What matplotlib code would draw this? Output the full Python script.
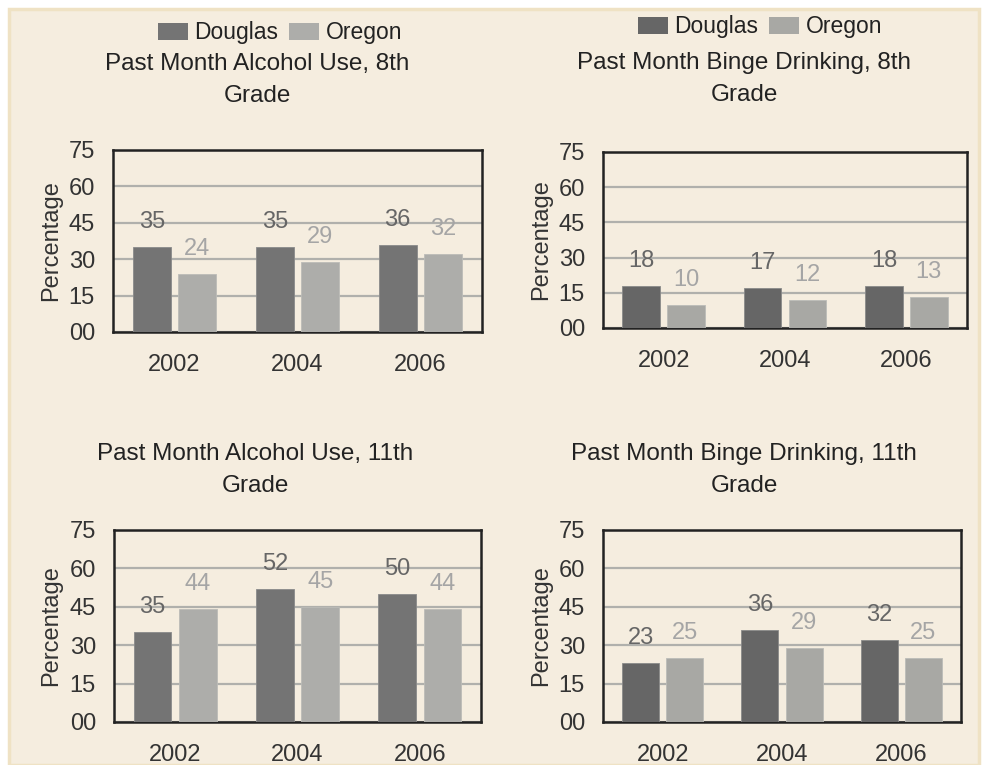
import matplotlib.pyplot as plt
from matplotlib.patches import Rectangle, Patch

plt.rcParams['font.family'] = ['Liberation Sans', 'DejaVu Sans']

years = ['2002', '2004', '2006']
yticks = [0, 15, 30, 45, 60, 75]
ytick_labels = ['00', '15', '30', '45', '60', '75']

alcohol_8_douglas = [35, 35, 36]
alcohol_8_oregon = [24, 29, 32]
binge_8_douglas = [18, 17, 18]
binge_8_oregon = [10, 12, 13]
alcohol_11_douglas = [35, 52, 50]
alcohol_11_oregon = [44, 45, 44]
binge_11_douglas = [23, 36, 32]
binge_11_oregon = [25, 29, 25]

titles = ['Past Month Alcohol Use, 8th\nGrade',
          'Past Month Binge Drinking, 8th\nGrade',
          'Past Month Alcohol Use, 11th\nGrade',
          'Past Month Binge Drinking, 11th\nGrade']

bg = '#f5eddf'
W, H = 983, 765

fig = plt.figure(figsize=(W / 100, H / 100), dpi=100)
fig.patch.set_facecolor('white')
# beige panel with a slightly darker rim
fig.patches.append(Rectangle((9 / W, 0), 970 / W, 1 - 9 / H, transform=fig.transFigure,
                             facecolor=bg, edgecolor='#efe2c4', linewidth=2.5, zorder=-5))

# (left, right, top, bottom) in pixels, plus title / legend centres
panels = [
    dict(box=(113, 482, 150, 332), douglas=alcohol_8_douglas, oregon=alcohol_8_oregon,
         cd='#747474', co='#adadaa', tx=257, ty=80, leg=(280, 33)),
    dict(box=(603, 967, 152, 328), douglas=binge_8_douglas, oregon=binge_8_oregon,
         cd='#666666', co='#a8a8a4', tx=744, ty=79, leg=(760, 27)),
    dict(box=(114, 481, 530, 722), douglas=alcohol_11_douglas, oregon=alcohol_11_oregon,
         cd='#747474', co='#adadaa', tx=255, ty=470, leg=None),
    dict(box=(603, 961, 530, 722), douglas=binge_11_douglas, oregon=binge_11_oregon,
         cd='#666666', co='#a8a8a4', tx=744, ty=470, leg=None),
]

x = range(len(years))
w = 0.31
off = 0.185

for p, title in zip(panels, titles):
    l, r, t, b = p['box']
    ax = fig.add_axes([l / W, 1 - b / H, (r - l) / W, (b - t) / H])
    ax.set_facecolor(bg)
    xd = [i - off for i in x]
    xo = [i + off for i in x]
    ax.bar(xd, p['douglas'], width=w, color=p['cd'], edgecolor='#8a8a8a', linewidth=0.6, zorder=3)
    ax.bar(xo, p['oregon'], width=w, color=p['co'], edgecolor='#bcbcb8', linewidth=0.6, zorder=3)
    for xi, v in zip(xd, p['douglas']):
        ax.annotate(str(v), (xi, v), xytext=(0, 18), textcoords='offset points',
                    ha='center', va='center', fontsize=17, color='#666666', zorder=4)
    for xi, v in zip(xo, p['oregon']):
        ax.annotate(str(v), (xi, v), xytext=(0, 18), textcoords='offset points',
                    ha='center', va='center', fontsize=17, color='#a5a5a5', zorder=4)
    ax.set_xlim(-0.5, 2.5)
    ax.set_ylim(0, 75)
    ax.set_yticks(yticks)
    ax.set_yticklabels(ytick_labels)
    ax.set_xticks(list(x))
    ax.set_xticklabels(years)
    ax.tick_params(axis='both', length=0, labelsize=17, colors='#333333')
    ax.tick_params(axis='y', pad=13, labelsize=17)
    ax.tick_params(axis='x', pad=15.5)
    ax.yaxis.grid(True, color='#b0b0ac', linewidth=1.6, zorder=1)
    ax.set_axisbelow(True)
    for s in ax.spines.values():
        s.set_color('#222222')
        s.set_linewidth(1.8)
    ax.set_ylabel('Percentage', fontsize=17, color='#333333', labelpad=5)
    fig.text(p['tx'] / W, 1 - p['ty'] / H, title, ha='center', va='center',
             fontsize=17.5, color='#222222', linespacing=1.6)
    if p['leg']:
        handles = [Patch(facecolor=p['cd'], edgecolor='none', label='Douglas'),
                   Patch(facecolor=p['co'], edgecolor='none', label='Oregon')]
        fig.legend(handles=handles, loc='center', ncol=2, frameon=False,
                   bbox_to_anchor=(p['leg'][0] / W, 1 - p['leg'][1] / H),
                   fontsize=16.5, handlelength=1.3, handleheight=0.75,
                   handletextpad=0.3, columnspacing=0.45, labelcolor='#222222')

fig.savefig('out.png', dpi=100, facecolor=fig.get_facecolor())
